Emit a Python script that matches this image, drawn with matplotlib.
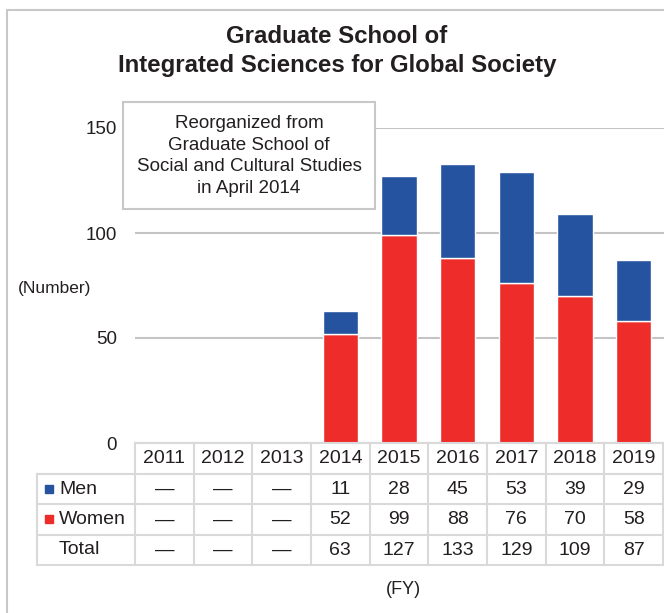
import matplotlib
matplotlib.use("Agg")
import matplotlib.pyplot as plt
from matplotlib.patches import Rectangle
import numpy as np

plt.rcParams['font.family'] = ['Liberation Sans', 'DejaVu Sans']

# ---- data ----
years = ['2011', '2012', '2013', '2014', '2015', '2016', '2017', '2018', '2019']
men = [None, None, None, 11, 28, 45, 53, 39, 29]
women = [None, None, None, 52, 99, 88, 76, 70, 58]
total = [None, None, None, 63, 127, 133, 129, 109, 87]
row_labels = ['Men', 'Women', 'Total']
yticks = [0, 50, 100, 150]
title = "Graduate School of\nIntegrated Sciences for Global Society"
note = "Reorganized from\nGraduate School of\nSocial and Cultural Studies\nin April 2014"

BLUE = '#2553a0'
RED = '#ee2d2a'
GRID = '#c4c4c4'
TLINE = '#d9d9d9'
TXT = '#231f20'

W, H = 664, 613
fig = plt.figure(figsize=(W / 100, H / 100), dpi=100)


def fx(x):
    return x / W


def fy(y):
    return 1 - y / H


# outer frame (only left/top visible)
fig.patches.append(Rectangle((fx(7), fy(700)), fx(700) - fx(7), fy(10) - fy(700),
                             transform=fig.transFigure, fill=False,
                             edgecolor='#c8c8c8', linewidth=1.5))

# ---- main axes ----
x0, x1 = 135, 664
ytop, ybot = 128, 443
ax = fig.add_axes([fx(x0), fy(ybot), fx(x1) - fx(x0), fy(ytop) - fy(ybot)])
n = len(years)
col_w = (663 - 135) / n
ax.set_xlim(-0.5, -0.5 + (x1 - x0) / col_w)
ax.set_ylim(0, 150)
for s in ax.spines.values():
    s.set_visible(False)
ax.set_xticks([])
ax.set_yticks(yticks)
ax.set_yticklabels([str(t) for t in yticks], fontsize=13.5, color=TXT)
ax.tick_params(axis='y', length=0, pad=13)
ax.yaxis.grid(True, color=GRID, linewidth=1.5)
ax.set_axisbelow(True)

idx = [i for i in range(n) if men[i] is not None]
wv = [women[i] for i in idx]
mv = [men[i] for i in idx]
ax.bar(idx, wv, width=0.6, color=RED, edgecolor='white', linewidth=1.0, zorder=3)
ax.bar(idx, mv, bottom=wv, width=0.6, color=BLUE, edgecolor='white', linewidth=1.0, zorder=3)

# ---- title ----
fig.text(fx(337), fy(51), title, ha='center', va='center', fontsize=17.3,
         fontweight='bold', color=TXT, linespacing=1.38)

# ---- note box ----
fig.patches.append(Rectangle((fx(123), fy(209)), fx(375) - fx(123), fy(102) - fy(209),
                             transform=fig.transFigure, facecolor='white',
                             edgecolor='#c8c8c8', linewidth=1.5, zorder=5))
fig.text(fx(249), fy(156), note, ha='center', va='center', fontsize=13.5,
         color=TXT, linespacing=1.38, zorder=6)

# (Number)
fig.text(fx(55), fy(289), '(Number)', ha='center', va='center', fontsize=12.5, color=TXT)
# (FY)
fig.text(fx(403), fy(590), '(FY)', ha='center', va='center', fontsize=13, color=TXT)

# ---- table ----
tl, tt, tb = 37, 443, 565
tax = fig.add_axes([fx(tl), fy(tb), fx(x1) - fx(tl), fy(tt) - fy(tb)])
lab_w = (135 - 37) / col_w
xl = -0.5 - lab_w
tax.set_xlim(xl, -0.5 + (x1 - x0) / col_w)
tax.set_ylim(4, 0)
tax.axis('off')

xr = -0.5 + n
lk = dict(color=TLINE, linewidth=1.5, clip_on=False)
tax.plot([-0.5, xr], [0, 0], **lk)
for r in range(1, 5):
    tax.plot([xl, xr], [r, r], **lk)
tax.plot([xl, xl], [1, 4], **lk)
for k in range(n + 1):
    tax.plot([-0.5 + k, -0.5 + k], [0, 4], **lk)

for i, y in enumerate(years):
    tax.text(i, 0.52, y, ha='center', va='center', fontsize=14, color=TXT)

rows = [men, women, total]
for r, vals in enumerate(rows):
    for i, v in enumerate(vals):
        tax.text(i, r + 1.52, '—' if v is None else str(v), ha='center', va='center',
                 fontsize=14, color=TXT)

sq_colors = [BLUE, RED, None]
for r, lab in enumerate(row_labels):
    if sq_colors[r]:
        fig.patches.append(Rectangle((fx(45), fy(tt + (r + 1) * 30.5 + 19)), 8 / W, 8 / H,
                                     transform=fig.transFigure, color=sq_colors[r]))
    fig.text(fx(59), fy(tt + (r + 1) * 30.5 + 15.5), lab, ha='left', va='center',
             fontsize=14, color=TXT)

fig.savefig('out.png', dpi=100)
